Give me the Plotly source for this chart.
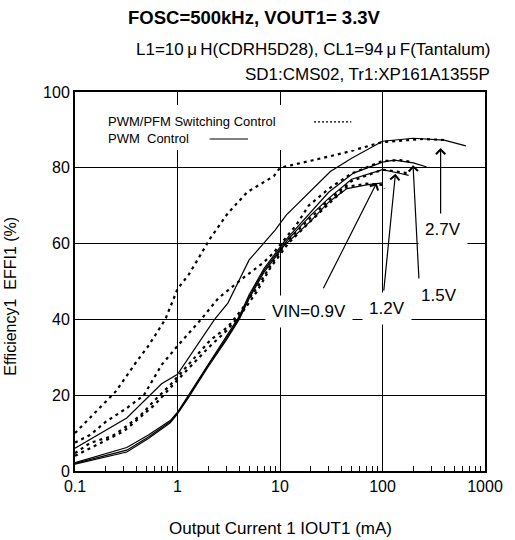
import plotly.graph_objects as go

# ---------------- data: output current (mA) -> efficiency (%) ----------------
# PWM control (solid)
pwm27_i = [0.1, 0.32, 0.7, 1.0, 2.3, 3.1, 5, 9, 11.5, 20, 31, 50, 100, 200, 400, 650]
pwm27_e = [6, 14, 23, 25.5, 40, 44.3, 55.7, 63.6, 67.5, 74, 79, 82.5, 87, 87.8, 87.3, 85.8]

pwm15_i = [0.1, 0.32, 0.52, 0.85, 1.0, 1.27, 2, 3, 4, 5, 7, 11, 21, 30, 52, 100, 130, 200, 270]
pwm15_e = [2.2, 6.2, 9.5, 13.3, 15.5, 19.8, 28.3, 35.5, 40.8, 46.5, 53.5, 60.5, 69, 73.6, 78.6, 81.5, 82, 81.3, 80.2]

pwm12_i = [0.1, 0.32, 0.52, 0.85, 1.0, 1.27, 2, 3, 4, 5, 7, 11, 20, 30, 50, 100, 150, 180]
pwm12_e = [2, 5.5, 9, 13, 15.3, 19.5, 28, 35, 40.4, 46, 53, 60, 67.5, 72, 77, 79.5, 78.5, 78]

pwm09_i = [0.1, 0.32, 0.52, 0.85, 1.0, 1.27, 2, 3, 4, 5, 7, 11, 20, 30, 45, 70, 100]
pwm09_e = [1.8, 5.0, 8.6, 12.7, 15.1, 19.2, 27.6, 34.6, 40, 45.5, 52.5, 59.5, 66, 71, 74.5, 75.5, 76]

# PWM/PFM switching control (dotted)
pfm27_i = [0.1, 0.25, 0.39, 0.52, 0.76, 1.0, 1.3, 2.1, 3.1, 4.8, 8.7, 10, 21, 43, 100, 250, 420]
pfm27_e = [10, 21, 28.5, 33, 40, 48, 52, 61.5, 68, 73.6, 77.8, 80, 82, 84, 86.8, 87.6, 87.3]

pfm15_i = [0.1, 0.14, 0.2, 0.32, 0.47, 0.7, 1.0, 1.7, 2.5, 4.5, 6.9, 8.6, 14.5, 19, 30, 50, 100, 150, 200]
pfm15_e = [7.5, 9.5, 13, 16.6, 20, 28, 33, 40, 45.6, 51.2, 55, 57.5, 65, 70, 74.5, 78.5, 81.8, 82, 81.5]

pfm12_i = [0.1, 0.14, 0.23, 0.3, 0.44, 0.6, 0.85, 1.35, 2.1, 3.1, 4.2, 6, 8, 12, 20, 30, 50, 100, 140, 180]
pfm12_e = [4.7, 7.4, 9.2, 11.3, 14.8, 18.7, 22.7, 28.8, 34.6, 38, 42.5, 48.5, 54, 61, 67, 71.5, 76.5, 79.5, 79, 78.5]

pfm09_i = [0.1, 0.3, 0.6, 1.0, 2, 3, 4.2, 6, 8, 12, 20, 30, 45, 70, 100, 105]
pfm09_e = [4, 10.5, 17.5, 24, 32.5, 37, 41.5, 47.5, 53.5, 60, 66, 70.5, 75, 75.8, 75.5, 74.5]

x_tick_vals = [0.1, 1, 10, 100, 1000]
x_tick_text = ["0.1", "1", "10", "100", "1000"]

FONT = "Arial, Liberation Sans, sans-serif"

fig = go.Figure()

solid = [(pwm27_i, pwm27_e), (pwm15_i, pwm15_e), (pwm12_i, pwm12_e), (pwm09_i, pwm09_e)]
dotted = [(pfm27_i, pfm27_e), (pfm15_i, pfm15_e), (pfm12_i, pfm12_e), (pfm09_i, pfm09_e)]

for xi, ye in solid:
    fig.add_trace(go.Scatter(x=xi, y=ye, mode="lines",
                             line=dict(color="black", width=1.2), hoverinfo="skip"))
for xi, ye in dotted:
    fig.add_trace(go.Scatter(x=xi, y=ye, mode="lines",
                             line=dict(color="black", width=2.2, dash="3px,4px"), hoverinfo="skip"))

minor_vals = [m * 10 ** k for k in range(-1, 3) for m in range(2, 10)]

fig.update_layout(
    width=515, height=540,
    margin=dict(l=75, r=23, t=92, b=69),
    paper_bgcolor="white", plot_bgcolor="white",
    showlegend=False,
    font=dict(family=FONT, color="black", size=16),
    xaxis=dict(type="log", range=[-1, 3], tickmode="array",
               tickvals=x_tick_vals, ticktext=x_tick_text,
               showgrid=True, gridcolor="black", gridwidth=1.3,
               showline=True, linecolor="black", linewidth=2, mirror=True,
               ticks="", zeroline=False, tickfont=dict(size=16),
               minor=dict(tickmode="array", tickvals=minor_vals, ticks="inside",
                          ticklen=5, tickwidth=1, tickcolor="black", showgrid=False)),
    yaxis=dict(range=[0, 100], dtick=20, tick0=0,
               showgrid=True, gridcolor="black", gridwidth=1.3,
               showline=True, linecolor="black", linewidth=2, mirror=True,
               ticks="", zeroline=False, tickfont=dict(size=16)),
)

# legend box (white, covers gridlines) and line samples
shapes = [
    dict(type="rect", xref="paper", yref="paper", x0=0.060, x1=0.683, y0=0.847, y1=0.966,
         fillcolor="white", line=dict(width=0), layer="above"),
    dict(type="line", xref="paper", yref="paper", x0=0.583, x1=0.674, y0=0.921, y1=0.921,
         line=dict(color="black", width=1.2, dash="2px,2px"), layer="above"),
    dict(type="line", xref="paper", yref="paper", x0=0.3285, x1=0.422, y0=0.876, y1=0.876,
         line=dict(color="black", width=1.2), layer="above"),
]
fig.update_layout(shapes=shapes)

ann = []
# titles
ann.append(dict(text="<b>FOSC=500kHz, VOUT1= 3.3V</b>", xref="paper", yref="paper",
                x=(258 - 75) / 417, y=1.197, xanchor="center", yanchor="middle",
                showarrow=False, font=dict(size=18.5)))
ann.append(dict(text="L1=10\u2009\u03bc\u2009H(CDRH5D28), CL1=94\u2009\u03bc\u2009F(Tantalum)",
                xref="paper", yref="paper", xshift=7,
                x=1.0, y=1.113, xanchor="right", yanchor="middle", showarrow=False,
                font=dict(size=17)))
ann.append(dict(text="SD1:CMS02, Tr1:XP161A1355P", xref="paper", yref="paper", xshift=7,
                x=1.0, y=1.045, xanchor="right", yanchor="middle", showarrow=False,
                font=dict(size=17)))
# axis titles
ann.append(dict(text="Output Current 1 IOUT1 (mA)", xref="paper", yref="paper",
                x=0.5, y=-0.153, xanchor="center", yanchor="middle", showarrow=False,
                font=dict(size=17)))
ann.append(dict(text="Efficiency1\u00a0\u00a0EFFI1 (%)", xref="paper", yref="paper",
                x=-0.156, y=0.46, xanchor="center", yanchor="middle", showarrow=False,
                textangle=-90, font=dict(size=16)))
# legend texts
ann.append(dict(text="PWM/PFM Switching Control", xref="paper", yref="paper",
                x=0.0767, y=0.921, xanchor="left", yanchor="middle", showarrow=False,
                font=dict(size=13)))
ann.append(dict(text="PWM\u00a0\u00a0Control", xref="paper", yref="paper",
                x=0.0767, y=0.876, xanchor="left", yanchor="middle", showarrow=False,
                font=dict(size=13)))

# arrows (head at curve, tail below) - data coords, x in log10 units
arrows = [
    (1.943, 76.0, 1.416, 47.8),
    (2.126, 78.4, 2.011, 47.2),
    (2.298, 80.7, 2.356, 50.4),
    (2.567, 85.2, 2.567, 66.8),
]
for hx, hy, tx, ty in arrows:
    ann.append(dict(text="", x=hx, y=hy, xref="x", yref="y", ax=tx, ay=ty,
                    axref="x", ayref="y", showarrow=True, arrowhead=4,
                    arrowsize=1.5, arrowwidth=1.2, arrowcolor="black", standoff=0))

# VIN labels (white boxes cover grid)
labels = [("VIN=0.9V", 0.571, 0.422), ("1.2V", 0.761, 0.430),
          ("1.5V", 0.889, 0.464), ("2.7V", 0.898, 0.636)]
for t, lx, ly in labels:
    ann.append(dict(text=t, xref="paper", yref="paper", x=lx, y=ly,
                    xanchor="center", yanchor="middle", showarrow=False,
                    bgcolor="white", borderpad=6, font=dict(size=17)))

fig.update_layout(annotations=ann)

fig.write_html("out.html", config={"displayModeBar": False},
               post_script="document.body.style.margin='0';document.body.style.padding='0';")
